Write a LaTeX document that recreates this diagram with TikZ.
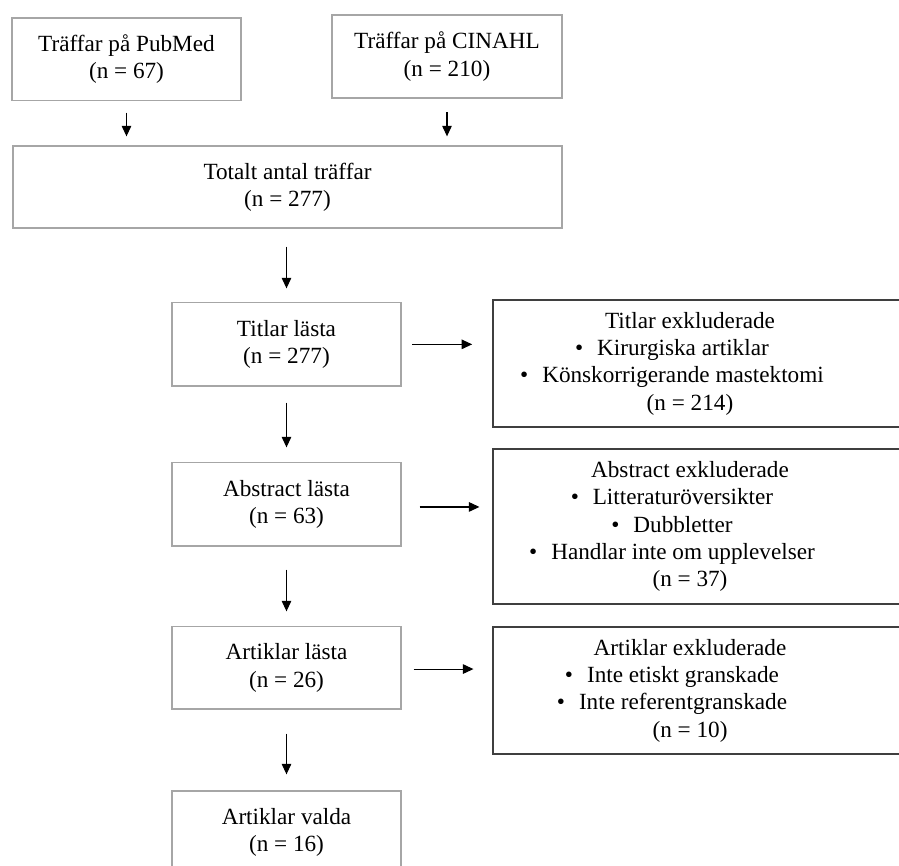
\documentclass[tikz,border=0pt]{standalone}
\usepackage{fontspec}
\setmainfont{Liberation Serif}
\usetikzlibrary{arrows.meta}
\definecolor{boxgray}{HTML}{A6A6A6}
\definecolor{boxdark}{HTML}{3F3F3F}
\newcommand{\blt}[1]{\mbox{\textbullet\hspace{0.6em}#1\hspace{36pt}}}
\begin{document}
\begin{tikzpicture}[x=1pt,y=-1pt,
  txt/.style={font=\fontsize{23.2}{27.3}\selectfont, align=center, inner sep=0pt},
  lbox/.style={txt, draw=boxgray, line width=1.3pt},
  xbox/.style={draw=boxdark, line width=1.1pt, minimum width=412pt, inner sep=0pt},
  arr/.style={line width=1.1pt, -{Triangle[length=10.5pt,width=9.5pt]}}
]
\useasboundingbox (0,0) rectangle (899,866);

% top boxes
\node[lbox, minimum width=229pt, minimum height=82.7pt] (pm) at (126.5,59.35) {Träffar på PubMed\\(n = 67)};
\node[lbox, minimum width=230pt, minimum height=83pt] (ci) at (447,56.5) {Träffar på CINAHL\\(n = 210)};
\node[lbox, minimum width=549pt, minimum height=82pt] (tot) at (287.5,187) {Totalt antal träffar\\(n = 277)};

% left column
\node[lbox, minimum width=229pt, minimum height=83.3pt] (tl) at (286.5,344.35) {Titlar lästa\\(n = 277)};
\node[lbox, minimum width=229pt, minimum height=83.3pt] (al) at (286.5,504.35) {Abstract lästa\\(n = 63)};
\node[lbox, minimum width=229pt, minimum height=82.3pt] (ar) at (286.5,667.85) {Artiklar lästa\\(n = 26)};
\node[lbox, minimum width=229pt, minimum height=83pt] (av) at (286.5,832.5) {Artiklar valda\\(n = 16)};

% exclusion boxes (extend beyond the right edge of the picture)
\node[xbox, minimum height=127pt] (tx) at (699,363.5) {};
\node[xbox, minimum height=155pt] (ax) at (699,526.5) {};
\node[xbox, minimum height=127pt] (rx) at (699,690.5) {};

\node[txt] (txt1) at (690,363.5) {Titlar exkluderade\\
  \blt{Kirurgiska artiklar}\\
  \blt{Könskorrigerande mastektomi}\\
  (n = 214)};
\node[txt] (axt) at (690,526.5) {Abstract exkluderade\\
  \blt{Litteraturöversikter}\\
  \blt{Dubbletter}\\
  \blt{Handlar inte om upplevelser}\\
  (n = 37)};
\node[txt] (rxt) at (690,690.5) {Artiklar exkluderade\\
  \blt{Inte etiskt granskade}\\
  \blt{Inte referentgranskade}\\
  (n = 10)};

% vertical arrows
\draw[arr, shorten <=11.3pt, shorten >=9pt] (pm.south) -- (pm.south |- tot.north);
\draw[arr, shorten <=13.5pt, shorten >=9pt] (ci.south) -- (ci.south |- tot.north);
\draw[arr, shorten <=18pt, shorten >=13.7pt] (tl.north |- tot.south) -- (tl.north);
\draw[arr, shorten <=16pt, shorten >=14.7pt] (tl.south) -- (al.north);
\draw[arr, shorten <=23pt, shorten >=14.7pt] (al.south) -- (ar.north);
\draw[arr, shorten <=24pt, shorten >=16pt] (ar.south) -- (av.north);

% horizontal arrows
\draw[arr, shorten <=10.7pt, shorten >=20.3pt] (tl.east) -- (tl.east -| tx.west);
\draw[arr, shorten <=18pt, shorten >=13pt] ([yshift=-2.6pt]al.east) -- ([yshift=-2.6pt]al.east -| ax.west);
\draw[arr, shorten <=12pt, shorten >=19pt] ([yshift=-1.2pt]ar.east) -- ([yshift=-1.2pt]ar.east -| rx.west);
\end{tikzpicture}
\end{document}
